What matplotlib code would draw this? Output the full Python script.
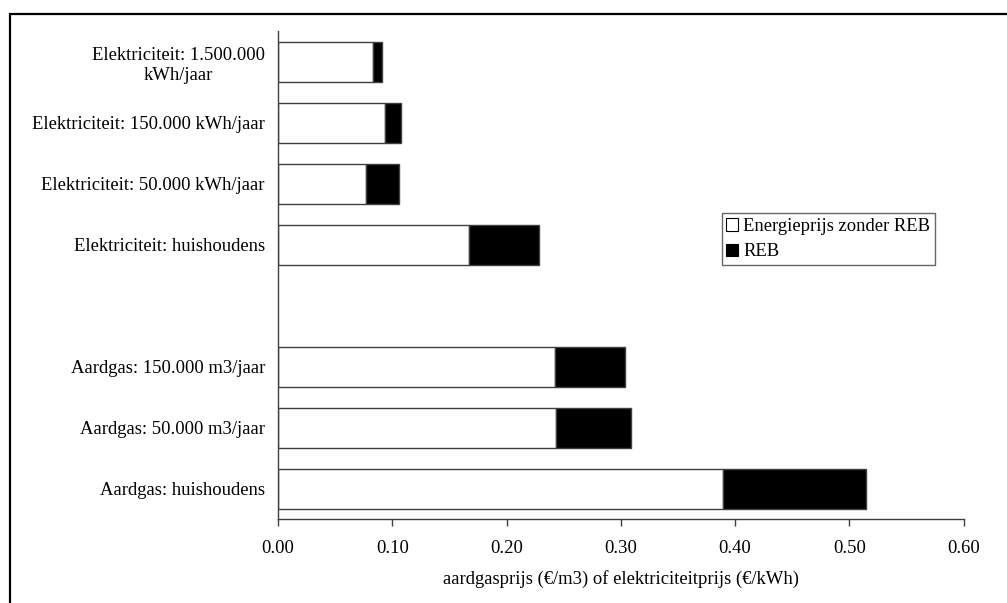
import numpy as np
import matplotlib
matplotlib.use("Agg")
import matplotlib.pyplot as plt
from matplotlib.patches import Rectangle, Patch
from matplotlib.ticker import FormatStrFormatter

plt.rcParams['font.family'] = 'serif'
plt.rcParams['font.serif'] = ['Liberation Serif', 'DejaVu Serif']
plt.rcParams['font.size'] = 13.4

# categorieën van onder naar boven (lege regel als scheiding gas / stroom)
categorieen = ['Aardgas: huishoudens',
               'Aardgas: 50.000 m3/jaar',
               'Aardgas: 150.000 m3/jaar',
               '',
               'Elektriciteit: huishoudens',
               'Elektriciteit: 50.000 kWh/jaar',
               'Elektriciteit: 150.000 kWh/jaar',
               'Elektriciteit: 1.500.000\nkWh/jaar']

# prijs zonder REB en de REB zelf
energieprijs = [0.3895, 0.2432, 0.2426, 0.0, 0.1668, 0.0767, 0.0936, 0.0834]
reb = [0.1251, 0.0656, 0.0613, 0.0, 0.0613, 0.0289, 0.0140, 0.0073]
zichtbaar = [True, True, True, False, True, True, True, True]

xticks = np.arange(0, 0.61, 0.1)

fig = plt.figure(figsize=(10.07, 6.03), dpi=100)
ax = fig.add_axes([0.276, 0.1385, 0.681, 0.8093])

y = np.arange(len(categorieen))
e = np.array(energieprijs)
r = np.array(reb)
m = np.array(zichtbaar)

rand = '#404040'
ax.barh(y[m], e[m], height=0.66, color='white', edgecolor=rand, linewidth=1.0,
        label='Energieprijs zonder REB')
ax.barh(y[m], r[m], left=e[m], height=0.66, color='black', edgecolor=rand,
        linewidth=1.0, label='REB')

ax.set_xlim(0, 0.6)
ax.set_ylim(-0.5, len(categorieen) - 0.5)
ax.set_xticks(xticks)
ax.xaxis.set_major_formatter(FormatStrFormatter('%.2f'))
ax.set_yticks(y)
ax.set_yticklabels(categorieen, multialignment='center', linespacing=1.25)
ax.tick_params(axis='y', length=0, pad=9.4)
ax.tick_params(axis='x', direction='out', length=5, width=1, color=rand, pad=10)

for kant in ['top', 'right']:
    ax.spines[kant].set_visible(False)
for kant in ['left', 'bottom']:
    ax.spines[kant].set_color(rand)
    ax.spines[kant].set_linewidth(1)

ax.set_xlabel('aardgasprijs (€/m3) of elektriciteitprijs (€/kWh)', labelpad=9)

handles = [Patch(facecolor='white', edgecolor='black', linewidth=0.8),
           Patch(facecolor='black', edgecolor='black', linewidth=0.8)]
leg = fig.legend(handles, ['Energieprijs zonder REB', 'REB'],
                 loc='upper left', bbox_to_anchor=(0.7167, 0.6463),
                 frameon=True, fancybox=False, shadow=False,
                 handlelength=0.65, handleheight=0.65, handletextpad=0.25,
                 borderpad=0.25, borderaxespad=0, labelspacing=0.45,
                 fontsize=13.4)
leg.get_frame().set_edgecolor(rand)
leg.get_frame().set_linewidth(1)

# kader om de hele figuur
fig.patches.append(Rectangle((0.0104, -0.05), 1.1, 0.026 + 1.0, transform=fig.transFigure,
                             fill=False, edgecolor='black', linewidth=1.6,
                             clip_on=False))

fig.savefig('out.png', dpi=100)
